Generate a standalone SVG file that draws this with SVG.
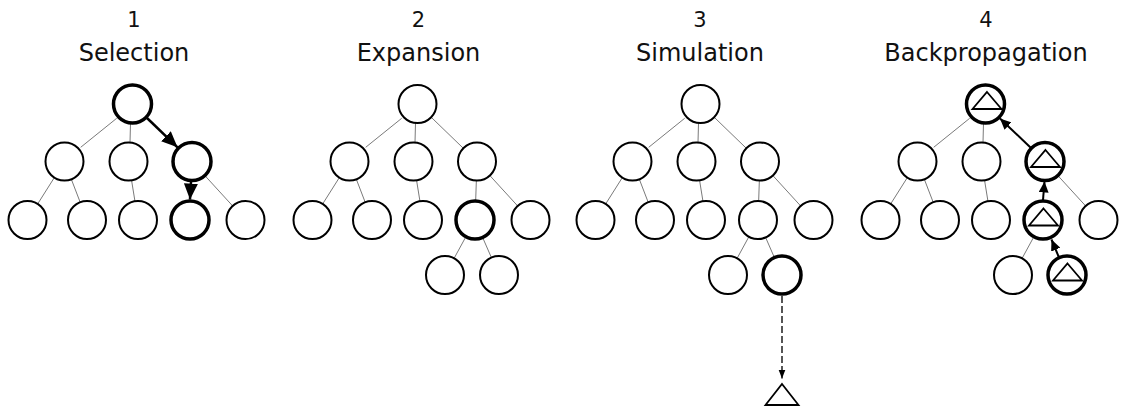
<svg xmlns="http://www.w3.org/2000/svg" width="1121" height="411" viewBox="0 0 1121 411">
  <style>
    .num { font-family: "DejaVu Sans", Verdana, sans-serif; font-size: 21px; fill: #111; text-anchor: middle; }
    .title { font-family: "DejaVu Sans", Verdana, sans-serif; font-size: 24px; fill: #111; text-anchor: middle; }
    .edge { stroke: #7a7a7a; stroke-width: 1; fill: none; }
    .node { fill: #fff; stroke: #000; stroke-width: 2; }
    .node.active { stroke-width: 3.5; }
    .tri { fill: #fff; stroke: #000; stroke-width: 1.8; stroke-linejoin: miter; }
    .arrow-big { stroke: #000; stroke-width: 2.5; fill: none; }
    .arrow-small { stroke: #000; stroke-width: 2; fill: none; }
    .sim { stroke: #555; stroke-width: 2; stroke-dasharray: 7 3; fill: none; }
  </style>
  <defs>
    <marker id="headBig" markerUnits="userSpaceOnUse" markerWidth="17" markerHeight="14" refX="16" refY="7" orient="auto">
      <path d="M0,0 L16,7 L0,14 Z" fill="#000"/>
    </marker>
    <marker id="headSmall" markerUnits="userSpaceOnUse" markerWidth="12" markerHeight="10" refX="11" refY="5" orient="auto">
      <path d="M0,0 L11,5 L0,10 Z" fill="#000"/>
    </marker>
    <marker id="headSim" markerUnits="userSpaceOnUse" markerWidth="10" markerHeight="8" refX="9" refY="3.5" orient="auto">
      <path d="M0,0 L9,3.5 L0,7 Z" fill="#000"/>
    </marker>
    <path id="value" d="M0,-12 L14.5,5 L-14.5,5 Z"/>
  </defs>

  <!-- Panel titles -->
  <g id="titles">
    <text class="num" x="134" y="27">1</text>
    <text class="title" x="134" y="61">Selection</text>
    <text class="num" x="418.5" y="27">2</text>
    <text class="title" x="418.5" y="61">Expansion</text>
    <text class="num" x="700" y="27">3</text>
    <text class="title" x="700" y="61">Simulation</text>
    <text class="num" x="986" y="27">4</text>
    <text class="title" x="986" y="61">Backpropagation</text>
  </g>

  <!-- ===== 1: Selection ===== -->
  <g id="selection">
    <g id="sel-connectors">
      <line class="edge" x1="116.7" y1="118.3" x2="80.7" y2="147.3"/>
      <line class="edge" x1="131" y1="104" x2="129.5" y2="161.5"/>
      <line class="edge" x1="64.5" y1="161.5" x2="27.5" y2="220"/>
      <line class="edge" x1="64.5" y1="161.5" x2="87" y2="220"/>
      <line class="edge" x1="128.5" y1="161.5" x2="138" y2="220"/>
      <line class="edge" x1="192" y1="161.5" x2="245.5" y2="220"/>
    </g>
    <g id="sel-nodes">
      <circle id="sel-r" class="node active" cx="132.5" cy="104" r="19"/>
      <circle id="sel-a" class="node" cx="64.5" cy="161.5" r="19"/>
      <circle id="sel-b" class="node" cx="128.5" cy="161.5" r="19"/>
      <circle id="sel-c" class="node active" cx="192" cy="161.5" r="19"/>
      <circle id="sel-d" class="node" cx="27.5" cy="220" r="19"/>
      <circle id="sel-e" class="node" cx="87" cy="220" r="19"/>
      <circle id="sel-f" class="node" cx="138" cy="220" r="19"/>
      <circle id="sel-g" class="node active" cx="190" cy="220" r="19"/>
      <circle id="sel-h" class="node" cx="245.5" cy="220" r="19"/>
    </g>
    <g id="sel-path">
      <line class="arrow-big" x1="147" y1="118" x2="177.5" y2="147.3" marker-end="url(#headBig)"/>
      <line class="arrow-big" x1="191" y1="181.5" x2="190" y2="199.5" marker-end="url(#headBig)"/>
    </g>
  </g>

  <!-- ===== 2: Expansion ===== -->
  <g id="expansion" transform="translate(285,0)">
    <g id="exp-connectors">
      <line class="edge" x1="116.7" y1="118.3" x2="80.7" y2="147.3"/>
      <line class="edge" x1="131" y1="104" x2="129.5" y2="161.5"/>
      <line class="edge" x1="132.5" y1="104" x2="192" y2="161.5"/>
      <line class="edge" x1="64.5" y1="161.5" x2="27.5" y2="220"/>
      <line class="edge" x1="64.5" y1="161.5" x2="87" y2="220"/>
      <line class="edge" x1="128.5" y1="161.5" x2="138" y2="220"/>
      <line class="edge" x1="192" y1="161.5" x2="190" y2="220"/>
      <line class="edge" x1="192" y1="161.5" x2="245.5" y2="220"/>
      <line class="edge" x1="190" y1="220" x2="160" y2="275"/>
      <line class="edge" x1="190" y1="220" x2="214" y2="275"/>
    </g>
    <g id="exp-nodes">
      <circle id="exp-r" class="node" cx="132.5" cy="104" r="19"/>
      <circle id="exp-a" class="node" cx="64.5" cy="161.5" r="19"/>
      <circle id="exp-b" class="node" cx="128.5" cy="161.5" r="19"/>
      <circle id="exp-c" class="node" cx="192" cy="161.5" r="19"/>
      <circle id="exp-d" class="node" cx="27.5" cy="220" r="19"/>
      <circle id="exp-e" class="node" cx="87" cy="220" r="19"/>
      <circle id="exp-f" class="node" cx="138" cy="220" r="19"/>
      <circle id="exp-g" class="node active" cx="190" cy="220" r="19"/>
      <circle id="exp-h" class="node" cx="245.5" cy="220" r="19"/>
      <circle id="exp-i" class="node" cx="160" cy="275" r="19"/>
      <circle id="exp-j" class="node" cx="214" cy="275" r="19"/>
    </g>
  </g>

  <!-- ===== 3: Simulation ===== -->
  <g id="simulation" transform="translate(568,0)">
    <g id="sim-connectors">
      <line class="edge" x1="116.7" y1="118.3" x2="80.7" y2="147.3"/>
      <line class="edge" x1="131" y1="104" x2="129.5" y2="161.5"/>
      <line class="edge" x1="132.5" y1="104" x2="192" y2="161.5"/>
      <line class="edge" x1="64.5" y1="161.5" x2="27.5" y2="220"/>
      <line class="edge" x1="64.5" y1="161.5" x2="87" y2="220"/>
      <line class="edge" x1="128.5" y1="161.5" x2="138" y2="220"/>
      <line class="edge" x1="192" y1="161.5" x2="190" y2="220"/>
      <line class="edge" x1="192" y1="161.5" x2="245.5" y2="220"/>
      <line class="edge" x1="190" y1="220" x2="160" y2="275"/>
      <line class="edge" x1="190" y1="220" x2="214" y2="275"/>
      <line class="sim" x1="214" y1="296" x2="214" y2="378.5" marker-end="url(#headSim)"/>
    </g>
    <g id="sim-nodes">
      <circle id="sim-r" class="node" cx="132.5" cy="104" r="19"/>
      <circle id="sim-a" class="node" cx="64.5" cy="161.5" r="19"/>
      <circle id="sim-b" class="node" cx="128.5" cy="161.5" r="19"/>
      <circle id="sim-c" class="node" cx="192" cy="161.5" r="19"/>
      <circle id="sim-d" class="node" cx="27.5" cy="220" r="19"/>
      <circle id="sim-e" class="node" cx="87" cy="220" r="19"/>
      <circle id="sim-f" class="node" cx="138" cy="220" r="19"/>
      <circle id="sim-g" class="node" cx="190" cy="220" r="19"/>
      <circle id="sim-h" class="node" cx="245.5" cy="220" r="19"/>
      <circle id="sim-i" class="node" cx="160" cy="275" r="19"/>
      <circle id="sim-j" class="node active" cx="214" cy="275" r="19"/>
    </g>
    <g id="sim-outcome">
      <path class="tri" d="M214,384 L230.5,405 L197.5,405 Z" stroke-width="2"/>
    </g>
  </g>

  <!-- ===== 4: Backpropagation ===== -->
  <g id="backpropagation" transform="translate(853,0)">
    <g id="bp-connectors">
      <line class="edge" x1="116.7" y1="118.3" x2="80.7" y2="147.3"/>
      <line class="edge" x1="131" y1="104" x2="129.5" y2="161.5"/>
      <line class="edge" x1="64.5" y1="161.5" x2="27.5" y2="220"/>
      <line class="edge" x1="64.5" y1="161.5" x2="87" y2="220"/>
      <line class="edge" x1="128.5" y1="161.5" x2="138" y2="220"/>
      <line class="edge" x1="192" y1="161.5" x2="245.5" y2="220"/>
      <line class="edge" x1="190" y1="220" x2="160" y2="275"/>
    </g>
    <g id="bp-nodes">
      <g id="bp-r">
        <circle class="node active" cx="132.5" cy="104" r="19"/>
        <use href="#value" class="tri" x="134" y="104"/>
      </g>
      <circle id="bp-a" class="node" cx="64.5" cy="161.5" r="19"/>
      <circle id="bp-b" class="node" cx="128.5" cy="161.5" r="19"/>
      <g id="bp-c">
        <circle class="node active" cx="192" cy="161.5" r="19"/>
        <use href="#value" class="tri" x="192.5" y="162"/>
      </g>
      <circle id="bp-d" class="node" cx="27.5" cy="220" r="19"/>
      <circle id="bp-e" class="node" cx="87" cy="220" r="19"/>
      <circle id="bp-f" class="node" cx="138" cy="220" r="19"/>
      <g id="bp-g">
        <circle class="node active" cx="190" cy="220" r="19"/>
        <use href="#value" class="tri" x="190.5" y="220.5"/>
      </g>
      <circle id="bp-h" class="node" cx="245.5" cy="220" r="19"/>
      <circle id="bp-i" class="node" cx="160" cy="275" r="19"/>
      <g id="bp-j">
        <circle class="node active" cx="214" cy="275" r="19"/>
        <use href="#value" class="tri" x="214.5" y="275.5"/>
      </g>
    </g>
    <g id="bp-path">
      <line class="arrow-small" x1="177.5" y1="147.5" x2="147" y2="118.5" marker-end="url(#headSmall)"/>
      <line class="arrow-small" x1="190" y1="200" x2="191.5" y2="181.5" marker-end="url(#headSmall)"/>
      <line class="arrow-small" x1="206" y1="257.5" x2="198.5" y2="239.5" marker-end="url(#headSmall)"/>
    </g>
  </g>
</svg>
